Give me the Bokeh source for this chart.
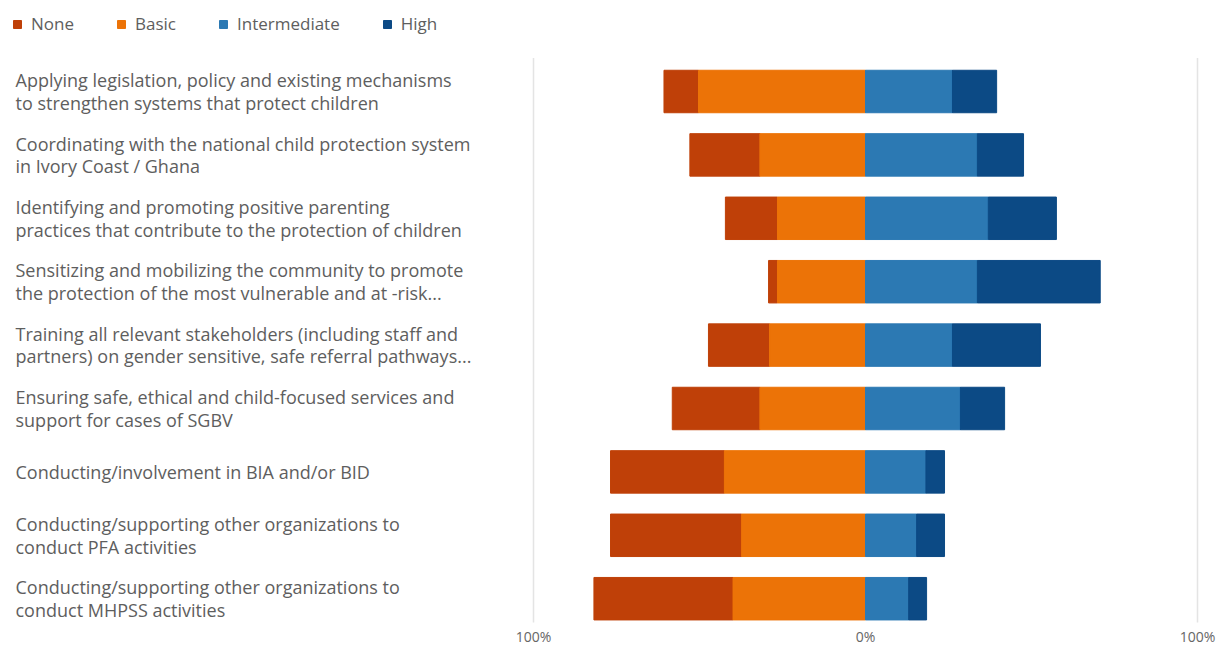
from bokeh.plotting import figure
from bokeh.models import Range1d, FixedTicker, Legend, LegendItem, ColumnDataSource
from bokeh.core.properties import value
from bokeh.embed import file_html
from bokeh.resources import INLINE

categories = [
    "Applying legislation, policy and existing mechanisms\nto strengthen systems that protect children",
    "Coordinating with the national child protection system\nin Ivory Coast / Ghana",
    "Identifying and promoting positive parenting\npractices that contribute to the protection of children",
    "Sensitizing and mobilizing the community to promote\nthe protection of the most vulnerable and at -risk...",
    "Training all relevant stakeholders (including staff and\npartners) on gender sensitive, safe referral pathways...",
    "Ensuring safe, ethical and child-focused services and\nsupport for cases of SGBV",
    "Conducting/involvement in BIA and/or BID",
    "Conducting/supporting other organizations to\nconduct PFA activities",
    "Conducting/supporting other organizations to\nconduct MHPSS activities",
]
none_pct = [10.4, 21.1, 15.7, 2.7, 18.4, 26.4, 34.3, 39.5, 41.9]
basic_pct = [50.3, 31.8, 26.5, 26.5, 28.9, 31.8, 42.5, 37.3, 39.9]
intermediate_pct = [26.2, 33.7, 37.0, 33.7, 26.2, 28.6, 18.2, 15.4, 13.0]
high_pct = [13.3, 13.9, 20.5, 37.0, 26.5, 13.3, 5.6, 8.4, 5.4]
series_names = ["None", "Basic", "Intermediate", "High"]
tick_values = [-100, 0, 100]
tick_labels = ["100%", "0%", "100%"]
grid_values = [-100, 100]

colors = ["#BF4008", "#EC7307", "#2C79B3", "#0C4A85"]
FONT = "Open Sans"
TEXT_COLOR = "#5E5E5E"

W, H = 1224, 648
AXIS_H = 26
FRAME_H = H - AXIS_H
# horizontal layout: pixel of -100% and +100%, label column
PX_NEG, PX_POS, PX_LABEL = 533, 1197, 15
ppu = (PX_POS - PX_NEG) / 200.0
x_start = -100 - PX_NEG / ppu
x_end = 100 + (W - PX_POS) / ppu
label_x = -100 - (PX_NEG - PX_LABEL) / ppu
# vertical layout: first row centre and row pitch in pixels
ROW0, PITCH = 91.0, 63.4
y_top = -ROW0 / PITCH
y_bottom = y_top + FRAME_H / PITCH

p = figure(
    width=W, height=H,
    x_range=Range1d(x_start, x_end),
    y_range=Range1d(y_bottom, y_top),
    output_backend="svg", toolbar_location=None,
    min_border_left=0, min_border_right=0, min_border_top=0, min_border_bottom=AXIS_H,
)
p.outline_line_color = None
p.yaxis.visible = False
p.grid.grid_line_color = None

xa = p.xaxis[0]
xa.ticker = FixedTicker(ticks=tick_values)
xa.major_label_overrides = {v: l for v, l in zip(tick_values, tick_labels)}
xa.axis_line_color = None
xa.major_tick_line_color = None
xa.minor_tick_line_color = None
xa.major_tick_out = 0
xa.major_tick_in = 0
xa.minor_tick_out = 0
xa.minor_tick_in = 0
xa.major_label_standoff = 4
xa.major_label_text_font = FONT
xa.major_label_text_font_size = "14px"
xa.major_label_text_color = "#666666"

n = len(categories)
rows = list(range(n))

# gridlines spanning the rows only
p.segment(x0=grid_values, x1=grid_values, y0=[-0.53] * len(grid_values), y1=[n - 0.47] * len(grid_values),
          line_color="#E4E4E4", line_width=1.5)

basic_left = [-b for b in basic_pct]
none_left = [-(b + v) for b, v in zip(basic_pct, none_pct)]
inter_right = list(intermediate_pct)
high_right = [i + h for i, h in zip(intermediate_pct, high_pct)]

src = ColumnDataSource(dict(
    row=rows, cat=categories,
    none_l=none_left, none_r=basic_left,
    basic_l=basic_left, basic_r=[0] * n,
    inter_l=[0] * n, inter_r=inter_right,
    high_l=inter_right, high_r=high_right,
))
bh = 0.67
r_none = p.hbar(y="row", left="none_l", right="none_r", height=bh, color=colors[0], source=src)
r_basic = p.hbar(y="row", left="basic_l", right="basic_r", height=bh, color=colors[1], source=src)
r_inter = p.hbar(y="row", left="inter_l", right="inter_r", height=bh, color=colors[2], source=src)
r_high = p.hbar(y="row", left="high_l", right="high_r", height=bh, color=colors[3], source=src)

p.text(x=label_x, y="row", text="cat", source=src,
       text_font=value(FONT), text_font_size="18px", text_color=TEXT_COLOR,
       text_baseline="middle", text_align="left", text_line_height=0.94)

legend = Legend(
    items=[LegendItem(label=s, renderers=[r]) for s, r in zip(series_names, [r_none, r_basic, r_inter, r_high])],
    orientation="horizontal", location="top_left",
    label_text_font=FONT, label_text_font_size="17px", label_text_color=TEXT_COLOR,
    glyph_width=10, glyph_height=10, label_standoff=9, spacing=42,
    label_height=14, padding=3, margin=12, border_line_color=None,
    background_fill_alpha=0,
)
p.add_layout(legend, "center")

open("out.html", "w").write(file_html(p, INLINE))
